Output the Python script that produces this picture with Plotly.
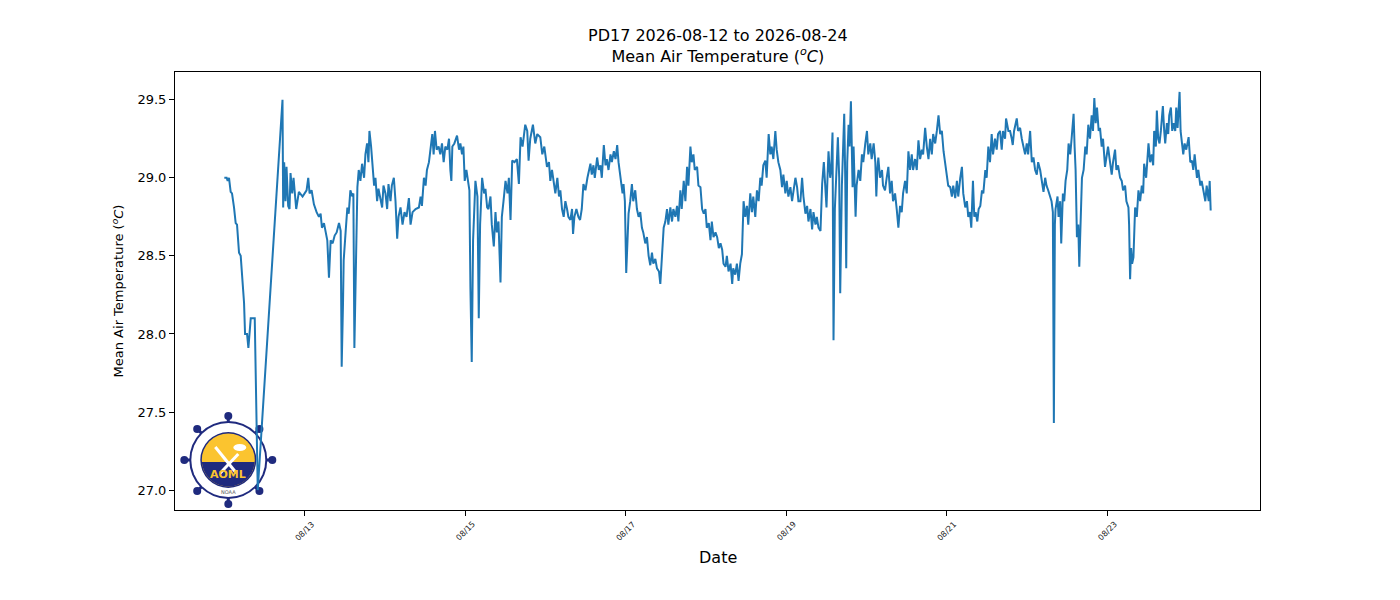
import math
import pandas as pd
import plotly.graph_objects as go

# hours since 2026-08-12 00:00 and mean air temperature (C)
hours = [0.0, 0.7, 1.0, 1.4, 1.9, 2.3, 2.9, 3.4, 3.8, 4.4, 4.9, 5.4, 5.9, 6.2, 6.8, 7.2, 7.6, 7.9, 9.1, 10.0,
         17.4, 17.6, 17.9, 18.3, 18.6, 19.1, 19.5, 19.8, 20.3, 20.7, 21.5, 22.3, 23.4, 24.6, 25.1, 25.5, 26.1, 26.8, 27.6, 28.3,
         28.8, 29.2, 29.8, 30.3, 30.8, 31.3, 31.8, 32.4, 33.0, 33.6, 34.3, 34.8, 35.1, 35.5, 35.7, 36.3, 36.8, 37.2, 37.7, 38.3,
         38.6, 38.9, 39.4, 39.8, 40.2, 40.7, 41.2, 41.8, 42.2, 42.7, 43.1, 43.4, 43.9, 44.3, 44.8, 45.2, 45.7, 46.1, 46.7, 47.2,
         47.6, 48.2, 48.7, 49.1, 49.7, 50.1, 50.7, 51.2, 51.7, 52.1, 52.7, 53.3, 53.9, 54.5, 55.2, 55.7, 56.3, 57.2, 58.2, 58.7,
         59.1, 59.7, 60.2, 60.6, 61.2, 61.7, 62.2, 62.6, 63.0, 63.5, 64.1, 64.6, 65.1, 65.6, 66.1, 66.7, 67.2, 67.6, 67.9, 68.2,
         68.8, 69.6, 70.2, 70.6, 71.1, 71.5, 71.9, 72.4, 72.9, 73.3, 73.6, 74.0, 74.4, 74.8, 75.1, 75.7, 76.1, 76.5, 77.1, 77.7,
         78.1, 78.6, 79.0, 79.6, 80.0, 80.6, 81.1, 81.5, 82.0, 82.6, 83.0, 83.5, 84.1, 84.7, 85.1, 85.6, 86.1, 86.8, 87.5, 88.1,
         88.6, 89.2, 90.0, 90.6, 91.0, 91.5, 92.3, 93.0, 93.6, 94.5, 95.1, 95.7, 96.5, 97.1, 97.5, 98.0, 98.5, 99.0, 99.6, 100.1,
         100.5, 101.0, 101.5, 102.0, 102.5, 102.9, 103.5, 104.0, 104.3, 104.7, 105.3, 105.9, 106.4, 106.9, 107.4, 108.0, 108.6, 109.0, 109.5, 109.9,
         110.4, 110.8, 111.5, 112.0, 112.5, 112.9, 113.5, 114.0, 114.4, 114.9, 115.5, 115.9, 116.5, 117.0, 117.5, 117.9, 118.2, 118.5, 119.1, 119.4,
         119.8, 120.2, 120.6, 120.9, 121.4, 121.9, 122.3, 122.9, 123.4, 123.9, 124.4, 124.9, 125.3, 125.9, 126.4, 126.9, 127.4, 127.9, 128.3, 128.9,
         129.4, 130.0, 130.4, 130.9, 131.4, 131.9, 132.4, 132.8, 133.4, 133.9, 134.3, 134.9, 135.4, 135.8, 136.4, 136.8, 137.4, 137.9, 138.4, 138.8,
         139.4, 139.8, 140.3, 140.7, 141.4, 141.8, 142.4, 142.9, 143.4, 143.9, 144.3, 144.9, 145.4, 145.8, 146.3, 146.9, 147.4, 147.9, 148.4, 148.9,
         149.3, 149.9, 150.3, 150.8, 151.4, 151.9, 152.2, 152.8, 153.3, 153.8, 154.3, 154.8, 155.3, 155.8, 156.3, 156.7, 157.3, 157.8, 158.2, 158.8,
         159.3, 159.8, 160.3, 160.7, 161.2, 161.8, 162.2, 162.8, 163.3, 163.7, 164.2, 164.8, 165.2, 165.7, 166.3, 166.8, 167.2, 167.8, 168.2, 168.7,
         169.3, 169.8, 170.2, 170.8, 171.3, 171.7, 172.3, 172.8, 173.2, 173.8, 174.3, 174.7, 175.3, 175.8, 176.2, 176.8, 177.2, 177.7, 178.3, 178.8,
         179.3, 179.8, 180.1, 180.4, 180.7, 181.2, 181.5, 181.9, 182.2, 182.6, 183.0, 183.5, 183.9, 184.2, 184.7, 185.1, 185.4, 185.7, 186.0, 186.3,
         186.7, 187.0, 187.4, 187.9, 188.2, 188.8, 189.1, 189.7, 190.2, 190.7, 191.1, 191.7, 192.2, 192.6, 193.2, 193.6, 194.2, 194.7, 195.0, 195.3,
         195.6, 196.1, 196.7, 197.0, 197.6, 198.1, 198.6, 199.1, 199.6, 200.0, 200.6, 201.1, 201.6, 202.1, 202.6, 203.0, 203.6, 204.1, 204.6, 205.1,
         205.6, 206.0, 206.6, 207.1, 207.6, 208.1, 208.6, 209.0, 209.6, 210.1, 210.6, 211.1, 211.6, 212.0, 212.6, 213.1, 213.6, 214.1, 214.6, 215.1,
         215.6, 216.1, 216.5, 217.1, 217.6, 218.0, 218.6, 219.1, 219.5, 220.1, 220.6, 221.0, 221.6, 222.1, 222.5, 223.0, 223.4, 223.9, 224.3, 224.7,
         225.2, 225.6, 226.1, 226.6, 227.0, 227.6, 228.0, 228.5, 229.0, 229.5, 229.9, 230.5, 231.0, 231.4, 232.0, 232.5, 232.9, 233.5, 233.8, 234.5,
         235.0, 235.5, 235.8, 236.2, 237.0, 237.4, 238.0, 238.5, 239.0, 239.5, 240.0, 240.4, 241.0, 241.5, 242.0, 242.5, 243.0, 243.4, 244.0, 244.4,
         245.0, 245.5, 245.9, 246.4, 247.0, 247.4, 247.8, 248.1, 248.4, 248.6, 249.2, 249.5, 250.0, 250.3, 250.8, 251.2, 251.6, 252.1, 252.5, 253.0,
         253.4, 254.0, 254.3, 254.6, 255.0, 255.4, 255.7, 256.1, 256.5, 257.0, 257.5, 257.9, 258.4, 258.9, 259.4, 259.8, 260.2, 260.6, 261.0, 261.5,
         261.9, 262.4, 262.8, 263.4, 263.9, 264.3, 264.9, 265.4, 265.8, 266.4, 266.8, 267.3, 267.9, 268.4, 268.8, 269.4, 269.8, 270.4, 270.6, 270.9,
         271.2, 271.5, 271.9, 272.4, 272.9, 273.4, 273.9, 274.4, 274.8, 275.1, 275.7, 276.4, 276.9, 277.4, 277.8, 278.1, 278.6, 278.9, 279.3, 279.7,
         280.1, 280.7, 281.1, 281.4, 281.9, 282.3, 282.6, 283.1, 283.5, 283.9, 284.4, 284.7, 285.1, 285.7, 286.0, 286.4, 286.8, 287.2, 287.7, 288.4,
         288.9, 289.4, 289.8, 290.2, 290.9, 291.3, 291.9, 292.3, 292.9, 293.4, 293.8, 294.4, 294.7, 295.0]

temps = [29.0, 29.0, 28.98, 29.0, 28.91, 28.9, 28.81, 28.71, 28.7, 28.52, 28.5, 28.34, 28.2, 28.0, 28.0, 27.91, 28.0, 28.1, 28.1, 27.0,
         29.5, 28.81, 29.1, 28.85, 29.07, 28.82, 28.8, 29.03, 28.9, 29.0, 28.8, 28.91, 28.88, 28.92, 29.0, 28.9, 28.92, 28.83, 28.78, 28.75,
         28.77, 28.68, 28.71, 28.66, 28.6, 28.36, 28.6, 28.58, 28.63, 28.65, 28.71, 28.66, 27.79, 28.2, 28.47, 28.66, 28.81, 28.77, 28.92, 28.88,
         28.9, 27.91, 28.6, 28.94, 29.05, 28.98, 29.09, 29.0, 29.15, 29.22, 29.1, 29.3, 29.2, 29.1, 28.95, 29.0, 28.85, 28.93, 28.85, 28.81,
         28.95, 28.9, 28.8, 28.96, 28.85, 28.95, 29.0, 28.85, 28.61, 28.75, 28.81, 28.7, 28.78, 28.75, 28.87, 28.7, 28.78, 28.8, 28.81, 28.88,
         28.82, 29.0, 28.95, 29.05, 29.1, 29.18, 29.28, 29.15, 29.3, 29.18, 29.2, 29.15, 29.22, 29.1, 29.2, 29.18, 29.25, 29.05, 28.98, 29.2,
         29.22, 29.27, 29.18, 29.22, 29.15, 29.2, 28.98, 29.05, 28.98, 28.92, 28.3, 27.82, 28.6, 28.9, 28.98, 28.88, 28.1, 28.7, 29.0, 28.9,
         28.93, 28.81, 28.8, 28.88, 28.7, 28.56, 28.78, 28.65, 28.72, 28.33, 28.75, 28.85, 28.98, 28.9, 29.0, 28.73, 29.11, 29.1, 29.12, 28.96,
         29.26, 29.2, 29.34, 29.3, 29.11, 29.25, 29.34, 29.22, 29.28, 29.26, 29.15, 29.2, 29.07, 29.1, 28.98, 29.05, 28.98, 28.9, 29.0, 28.88,
         28.92, 28.8, 28.75, 28.85, 28.8, 28.75, 28.73, 28.8, 28.64, 28.75, 28.8, 28.75, 28.73, 28.8, 28.96, 28.92, 29.0, 29.05, 29.09, 29.02,
         29.08, 29.0, 29.13, 29.05, 29.08, 29.0, 29.21, 29.08, 29.12, 29.05, 29.15, 29.1, 29.17, 29.12, 29.21, 29.1, 29.05, 28.98, 28.9, 28.96,
         28.85, 28.39, 28.6, 28.77, 28.85, 28.96, 28.85, 28.92, 28.8, 28.75, 28.78, 28.68, 28.65, 28.58, 28.62, 28.5, 28.44, 28.52, 28.45, 28.48,
         28.42, 28.4, 28.32, 28.5, 28.68, 28.72, 28.8, 28.7, 28.81, 28.72, 28.8, 28.75, 28.82, 28.72, 28.92, 28.8, 28.98, 28.85, 29.07, 28.95,
         29.2, 29.1, 29.15, 29.05, 29.07, 28.95, 28.94, 28.8, 28.77, 28.8, 28.68, 28.71, 28.6, 28.72, 28.62, 28.65, 28.62, 28.55, 28.58, 28.54,
         28.45, 28.43, 28.5, 28.4, 28.45, 28.32, 28.42, 28.38, 28.45, 28.34, 28.45, 28.51, 28.85, 28.75, 28.82, 28.7, 28.9, 28.78, 28.88, 28.75,
         28.92, 28.85, 29.0, 28.95, 29.08, 29.11, 29.0, 29.28, 29.15, 29.2, 29.12, 29.3, 29.18, 29.1, 29.05, 28.94, 29.02, 28.9, 28.98, 28.88,
         28.94, 28.85, 28.92, 29.0, 28.94, 28.85, 28.85, 29.0, 28.88, 28.77, 28.82, 28.72, 28.8, 28.67, 28.78, 28.7, 28.75, 28.68, 28.66, 28.96,
         29.1, 28.95, 28.81, 29.0, 29.17, 29.0, 29.05, 29.29, 27.96, 28.8, 29.05, 29.26, 29.0, 28.26, 28.95, 29.2, 29.41, 29.0, 28.42, 29.1,
         29.34, 29.2, 29.49, 28.94, 29.2, 28.75, 28.95, 29.05, 28.98, 29.15, 29.1, 29.22, 29.3, 29.15, 29.22, 29.12, 29.22, 29.1, 28.88, 29.05,
         29.13, 29.0, 29.05, 28.95, 28.92, 29.0, 29.07, 28.9, 28.98, 28.85, 28.9, 28.8, 28.68, 28.82, 28.78, 28.9, 28.98, 28.9, 29.17, 29.05,
         29.15, 29.05, 29.12, 29.05, 29.24, 29.12, 29.18, 29.15, 29.32, 29.2, 29.12, 29.25, 29.15, 29.28, 29.22, 29.3, 29.4, 29.28, 29.3, 29.17,
         29.1, 29.02, 28.95, 28.94, 28.88, 28.95, 28.87, 28.98, 28.88, 29.0, 29.07, 28.9, 28.81, 28.85, 28.75, 28.78, 28.68, 28.98, 28.75, 28.78,
         28.72, 28.8, 28.82, 28.92, 28.9, 29.05, 29.0, 29.2, 29.1, 29.28, 29.15, 29.25, 29.18, 29.28, 29.3, 29.18, 29.3, 29.25, 29.38, 29.3,
         29.3, 29.25, 29.21, 29.3, 29.38, 29.3, 29.32, 29.25, 29.2, 29.15, 29.22, 29.15, 29.3, 29.1, 29.13, 29.05, 29.02, 29.1, 29.05, 28.98,
         28.91, 29.0, 28.95, 28.92, 28.88, 28.85, 28.78, 27.43, 28.7, 28.8, 28.88, 28.75, 28.85, 28.58, 28.9, 28.85, 28.98, 29.05, 29.22, 29.15,
         29.25, 29.41, 29.2, 29.05, 28.62, 28.7, 28.43, 28.75, 29.0, 29.05, 29.2, 29.15, 29.34, 29.25, 29.4, 29.3, 29.51, 29.35, 29.45, 29.3,
         29.32, 29.2, 29.25, 29.07, 29.15, 29.2, 29.1, 29.02, 29.1, 29.18, 29.05, 29.08, 29.0, 28.98, 28.92, 28.95, 28.85, 28.81, 28.7, 28.35,
         28.55, 28.45, 28.49, 28.81, 28.75, 28.92, 28.85, 28.95, 28.9, 29.09, 29.0, 29.22, 29.1, 29.15, 29.08, 29.3, 29.2, 29.43, 29.25, 29.22,
         29.3, 29.46, 29.3, 29.22, 29.35, 29.28, 29.4, 29.45, 29.3, 29.35, 29.3, 29.45, 29.32, 29.55, 29.3, 29.22, 29.15, 29.22, 29.18, 29.26,
         29.1, 29.11, 29.05, 29.15, 29.0, 29.05, 28.95, 28.98, 28.92, 28.85, 28.95, 28.85, 28.98, 28.79]

tick_days = ["2026-08-13", "2026-08-15", "2026-08-17", "2026-08-19", "2026-08-21", "2026-08-23"]
tick_text = ["08/13", "08/15", "08/17", "08/19", "08/21", "08/23"]

start = pd.Timestamp("2026-08-12")
times = start + pd.to_timedelta(hours, unit="h")

# matplotlib style 5% margins
xpad = (max(hours) - min(hours)) * 0.05
xr = [start + pd.Timedelta(hours=min(hours) - xpad), start + pd.Timedelta(hours=max(hours) + xpad)]
ypad = (max(temps) - min(temps)) * 0.05
yr = [min(temps) - ypad, max(temps) + ypad]

FONT = "DejaVu Sans"
NAVY = "#1f2a7e"
GOLD = "#fbc42f"

fig = go.Figure()
fig.add_trace(go.Scatter(x=times, y=temps, mode="lines",
                         line=dict(color="#1f77b4", width=2), showlegend=False))

# x tick labels centred under the ticks, rotated
for d, t in zip(tick_days, tick_text):
    fig.add_annotation(x=d, y=0, xref="x", yref="paper", text=t, showarrow=False,
                       textangle=-45, xanchor="center", yanchor="middle", yshift=-21,
                       font=dict(family=FONT, size=8, color="#222"))

fig.add_annotation(x=0.5, y=1, xref="paper", yref="paper", showarrow=False,
                   text="PD17 2026-08-12 to 2026-08-24<br>Mean Air Temperature (<sup><i>o</i></sup><i>C</i>)",
                   yanchor="bottom", yshift=4, font=dict(family=FONT, size=16, color="black"))
fig.add_annotation(x=0.5, y=0, xref="paper", yref="paper", showarrow=False, text="Date",
                   yanchor="middle", yshift=-47, font=dict(family=FONT, size=16, color="black"))

# AOML logo drawn from simple shapes
cx, cy = (228.3 - 175) / 1085, (510 - 460) / 438
base = dict(xref="paper", yref="paper", xsizemode="pixel", ysizemode="pixel",
            xanchor=cx, yanchor=cy, layer="below")
shapes = []
for k in range(8):
    a = math.radians(45 * k)
    kx, ky = 44 * math.cos(a), 44 * math.sin(a)
    shapes.append(dict(type="line", x0=0, y0=0, x1=kx, y1=ky,
                       line=dict(color=NAVY, width=3), **base))
    shapes.append(dict(type="circle", x0=kx - 4, x1=kx + 4, y0=ky - 4, y1=ky + 4,
                       fillcolor=NAVY, line=dict(width=0), **base))
for r, c in [(39, NAVY), (37, "white"), (28, NAVY), (26.5, GOLD)]:
    shapes.append(dict(type="circle", x0=-r, x1=r, y0=-r, y1=r, fillcolor=c,
                       line=dict(width=0), **base))
# sea: lower part of the gold disc, below a line 2 px under the centre
rr = 26.5
pts = []
for a in range(-4, 185, 8):
    px = rr * math.cos(math.radians(a))
    pts.append((px, -math.sqrt(max(rr * rr - px * px, 4.0))))
pts = [(x, min(y, -2)) for x, y in pts]
path = "M " + " L ".join(f"{x:.1f},{y:.1f}" for x, y in pts) + " Z"
shapes.append(dict(type="path", path=path, fillcolor=NAVY, line=dict(width=0), **base))
shapes.append(dict(type="line", x0=-13, y0=13, x1=8, y1=-13, line=dict(color="white", width=3), **base))
shapes.append(dict(type="line", x0=10, y0=6, x1=-8, y1=-13, line=dict(color="white", width=3), **base))
shapes.append(dict(type="circle", x0=5, x1=18, y0=9, y1=16, fillcolor="white",
                   line=dict(width=0), **base))
fig.update_layout(shapes=shapes)
fig.add_annotation(x=cx, y=cy, xref="paper", yref="paper", text="<b>AOML</b>", showarrow=False,
                   xanchor="center", yanchor="middle", yshift=-14,
                   font=dict(family=FONT, size=11, color=GOLD))
fig.add_annotation(x=cx, y=cy, xref="paper", yref="paper", text="NOAA", showarrow=False,
                   xanchor="center", yanchor="middle", yshift=-32,
                   font=dict(family=FONT, size=5, color="#555"))

axis_common = dict(showline=True, linecolor="black", linewidth=1, mirror=True, showgrid=False,
                   zeroline=False, ticks="outside", ticklen=5, tickcolor="black")
fig.update_xaxes(range=xr, tickvals=tick_days, showticklabels=False, **axis_common)
fig.update_yaxes(range=yr, tickvals=[27.0, 27.5, 28.0, 28.5, 29.0, 29.5], tickformat=".1f",
                 tickfont=dict(family=FONT, size=13, color="black"),
                 title=dict(text="Mean Air Temperature (<sup><i>o</i></sup><i>C</i>)", standoff=10,
                            font=dict(family=FONT, size=13, color="black")),
                 **axis_common)
# the page body adds an 8 px offset, so margins are trimmed to keep the plot box in place
fig.update_layout(width=1400, height=600, plot_bgcolor="white", paper_bgcolor="white",
                  margin=dict(l=167, r=148, t=64, b=98), font=dict(family=FONT))

fig.write_html("out.html")
